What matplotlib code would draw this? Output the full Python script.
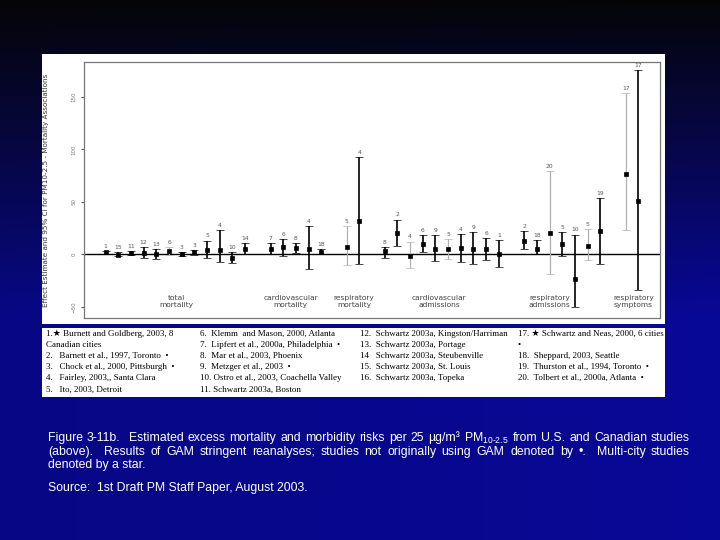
import numpy as np
import matplotlib.pyplot as plt

# ---- data ----
group_names = ["total\nmortality", "cardiovascular\nmortality", "respiratory\nmortality",
               "cardiovascular\nadmissions", "respiratory\nadmissions", "respiratory\nsymptoms"]
group_sizes = [12, 5, 2, 10, 7, 2]

study_ids = ["1", "15", "11", "12", "13", "6", "3", "3", "5", "4", "10", "14",
             "7", "6", "8", "4", "18",
             "5", "4",
             "8", "2", "4", "6", "9", "5", "4", "9", "6", "1",
             "2", "18", "20", "5", "10", "5", "19",
             "17", "17"]
estimate = [2.2, -0.1, 1.0, 1.6, 0.6, 3.3, 0.3, 2.2, 4.4, 4.1, -3.0, 5.0,
            5.4, 6.7, 6.3, 4.8, 2.5,
            6.7, 32.0,
            3.2, 20.6, -1.0, 10.0, 5.4, 4.8, 5.7, 5.0, 5.0, 0.0,
            12.7, 5.4, 20.9, 9.8, -23.5, 8.3, 22.2,
            76.6, 50.6]
ci_low = [0.7, -1.7, -0.9, -3.0, -4.5, -0.9, -1.0, -0.6, -3.0, -7.3, -8.2, 0.0,
          0.0, -1.6, 1.0, -13.6, 0.0,
          -9.8, -9.5,
          -3.5, 8.0, -13.0, 2.5, -6.0, -4.0, -7.0, -8.9, -4.8, -12.0,
          4.8, 0.0, -18.7, -1.3, -50.0, -4.8, -9.5,
          23.0, -33.8]
ci_high = [3.5, 2.0, 2.9, 6.7, 5.0, 7.0, 2.0, 4.0, 13.3, 23.0, 2.5, 10.8,
           10.5, 14.3, 11.1, 27.0, 5.0,
           27.0, 92.5,
           7.3, 33.3, 12.3, 18.7, 18.7, 14.6, 19.4, 21.6, 15.6, 14.0,
           22.2, 13.6, 79.8, 21.5, 19.0, 24.0, 54.0,
           153.5, 175.6]
# bars drawn in light grey in the original
light = [5, 17, 21, 24, 31, 34, 36]

legend_cols = [
    ["1.\u2605 Burnett and Goldberg, 2003, 8", "Canadian cities", "2.   Barnett et al., 1997, Toronto  \u2022",
     "3.   Chock et al., 2000, Pittsburgh  \u2022", "4.   Fairley, 2003,, Santa Clara", "5.   Ito, 2003, Detroit"],
    ["6.  Klemm  and Mason, 2000, Atlanta", "7.  Lipfert et al., 2000a, Philadelphia  \u2022",
     "8.  Mar et al., 2003, Phoenix", "9.  Metzger et al., 2003  \u2022",
     "10. Ostro et al., 2003, Coachella Valley", "11. Schwartz 2003a, Boston"],
    ["12.  Schwartz 2003a, Kingston/Harriman", "13.  Schwartz 2003a, Portage", "14   Schwartz 2003a, Steubenville",
     "15.  Schwartz 2003a, St. Louis", "16.  Schwartz 2003a, Topeka"],
    ["17. \u2605 Schwartz and Neas, 2000, 6 cities", "\u2022", "18.  Sheppard, 2003, Seattle",
     "19.  Thurston et al., 1994, Toronto  \u2022", "20.  Tolbert et al., 2000a, Atlanta  \u2022"],
]

caption = [
    "Figure 3-11b.  Estimated excess mortality and morbidity risks per 25 \u00b5g/m\u00b3 PM$_{\\mathrm{10\u20102.5}}$ from U.S. and Canadian studies",
    "(above).  Results of GAM stringent reanalyses; studies not originally using GAM denoted by \u2022.  Multi-city studies",
    "denoted by a star.",
]
source = "Source:  1st Draft PM Staff Paper, August 2003."

plt.rcParams['mathtext.fontset'] = 'custom'
plt.rcParams['mathtext.rm'] = 'Liberation Sans'

W, H = 720, 540


def box(x0, y0, x1, y1):
    return [x0 / W, 1 - y1 / H, (x1 - x0) / W, (y1 - y0) / H]


fig = plt.figure(figsize=(7.2, 5.4), dpi=100)

# slide background gradient
yy = np.linspace(0, 1, 200)[:, None]
xx = np.linspace(0, 1, 200)[None, :]
blue = np.clip(0.03 + 0.95 * yy, 0, 0.58) * (0.9 + 0.12 * xx)
grad = np.dstack([0.02 + 0.02 * blue, 0.02 + 0.02 * blue, blue])
bg = fig.add_axes([0, 0, 1, 1])
bg.imshow(grad, aspect='auto', extent=[0, 1, 0, 1], origin='upper')
bg.axis('off')

for rect in [box(42, 54, 665, 324), box(42, 328, 665, 397)]:
    wb = fig.add_axes(rect)
    wb.set_facecolor('white')
    wb.set_xticks([])
    wb.set_yticks([])
    for s in wb.spines.values():
        s.set_visible(False)

# x positions: one empty slot after each group
xpos = []
pos = 0
for n in group_sizes:
    xpos.extend(range(pos, pos + n))
    pos += n + 1

ax = fig.add_axes(box(84, 62, 660, 318))
ax.axhline(0, color='black', lw=1.0, zorder=1)
for i in range(len(estimate)):
    c = '#b0b0b0' if i in light else 'black'
    lw = 0.9 if i in light else 1.2
    ax.errorbar(xpos[i], estimate[i],
                yerr=[[estimate[i] - ci_low[i]], [ci_high[i] - estimate[i]]],
                fmt='s', ms=2.6, mfc='black', mec='black', mew=0.5, ecolor=c,
                elinewidth=lw, capsize=2.6, capthick=0.9, zorder=3)
    ax.annotate(study_ids[i], (xpos[i], ci_high[i]), xytext=(0, 1.5),
                textcoords='offset points', ha='center', va='bottom',
                fontsize=4.3, color='#555555')

label_x = [5.6, 14.6, 19.6, 26.3, 35.0, 41.6]
for name, lx in zip(group_names, label_x):
    ax.text(lx, -45, name, ha='center', va='center', fontsize=5.4,
            color='#444444', linespacing=1.2)

ax.set_xlim(-1.7, 43.7)
ax.set_ylim(-60.5, 183.3)
ax.set_xticks([])
ax.set_yticks([-50, 0, 50, 100, 150])
ax.tick_params(axis='y', length=2.5, pad=3, labelsize=4, labelcolor='#777777',
               color='#555555', labelrotation=90)
for t in ax.get_yticklabels():
    t.set_va('center')
for s in ax.spines.values():
    s.set_color('#777777')
    s.set_linewidth(0.9)
ax.set_ylabel("Effect Estimate and 95% CI for PM10-2.5 - Mortality Associations",
              fontsize=5.2, color='#333333')
ax.yaxis.set_label_coords((49 - 84) / 576, 0.5)

# legend table under the chart
col_x = [46, 200, 360, 518]
row_y = [334, 345, 356, 367, 378, 390]
for cx, col in zip(col_x, legend_cols):
    for ry, line in zip(row_y, col):
        fig.text(cx / W, 1 - ry / H, line, fontsize=6.5, va='center', ha='left',
                 family=['Liberation Serif', 'DejaVu Sans'], color='black')

# caption, lines 1-2 justified to the right margin
fig.canvas.draw()
renderer = fig.canvas.get_renderer()
left, right = 48, 690
cap_size = 8.8
cap_y = [438, 452, 465]
for k, (line, cy) in enumerate(zip(caption, cap_y)):
    words = line.split(' ')
    if k == len(caption) - 1:
        fig.text(left / W, 1 - cy / H, line, fontsize=cap_size, color='white',
                 family='Liberation Sans', va='center')
        continue
    arts = [fig.text(0, 1 - cy / H, w, fontsize=cap_size, color='white',
                     family='Liberation Sans', va='center') for w in words]
    widths = [a.get_window_extent(renderer).width for a in arts]
    gap = (right - left - sum(widths)) / (len(words) - 1)
    x = left
    for a, w in zip(arts, widths):
        a.set_x(x / W)
        x += w + gap
fig.text(left / W, 1 - 488 / H, source, fontsize=cap_size, color='white',
         family='Liberation Sans', va='center')

fig.savefig('out.png', dpi=100)
